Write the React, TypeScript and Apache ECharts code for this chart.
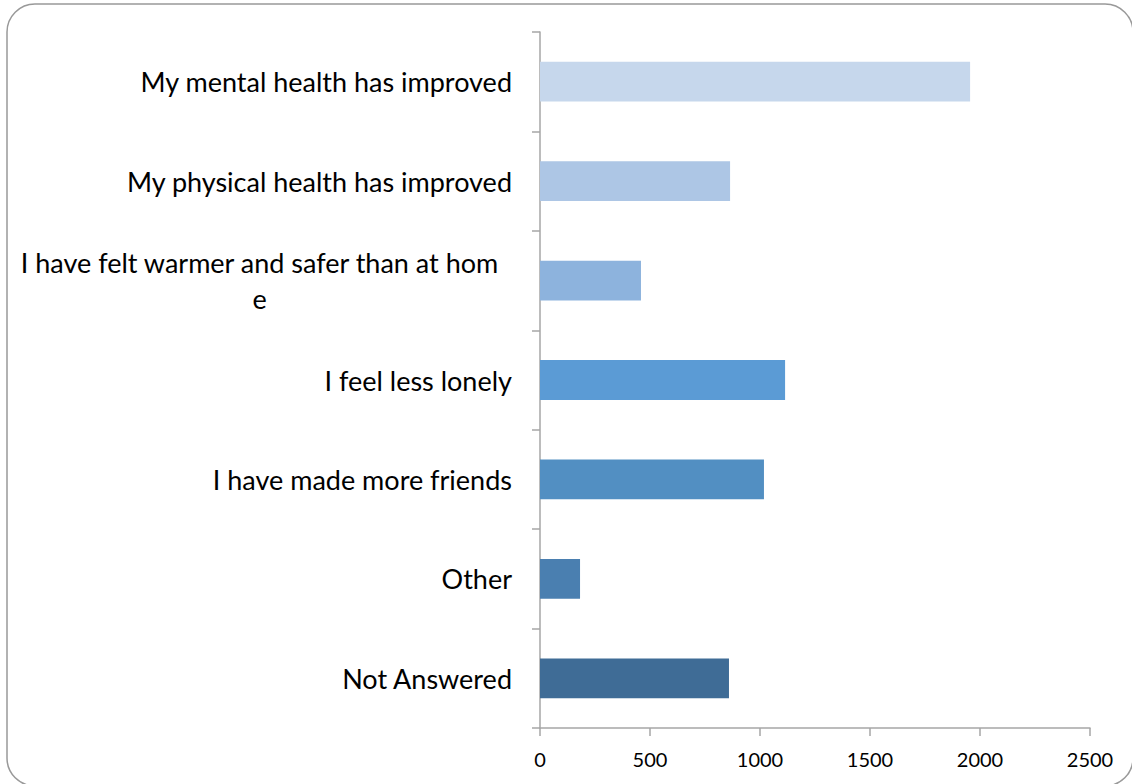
import React, { useEffect, useRef } from "react";
import * as echarts from "echarts";

const categories = [
  "My mental health has improved",
  "My physical health has improved",
  "I have felt warmer and safer than at home",
  "I feel less lonely",
  "I have made more friends",
  "Other",
  "Not Answered",
];
const values = [1955, 864, 459, 1114, 1018, 182, 859];
const barColors = ["#C6D7EC", "#ADC6E5", "#8DB3DD", "#5B9BD5", "#528FC2", "#4A7FB0", "#3F6C96"];
const xTicks = { min: 0, max: 2500, interval: 500 };

const FONT = "Lato";

export default function App() {
  const ref = useRef<HTMLDivElement>(null);
  useEffect(() => {
    if (!ref.current) return;
    const chart = echarts.init(ref.current, undefined, { renderer: "svg" });
    chart.setOption({
      animation: false,
      backgroundColor: "#ffffff",
      grid: { left: 540, right: 42, top: 32, bottom: 56, containLabel: false },
      xAxis: {
        type: "value",
        min: xTicks.min,
        max: xTicks.max,
        interval: xTicks.interval,
        splitLine: { show: false },
        axisLine: { show: true, lineStyle: { color: "#A6A6A6", width: 1.5 } },
        axisTick: { show: true, length: 8, lineStyle: { color: "#A6A6A6", width: 1.5 } },
        axisLabel: {
          color: "#000",
          fontSize: 20,
          fontFamily: FONT,
          margin: 21,
          formatter: (v: number) => String(v),
        },
      },
      yAxis: {
        type: "category",
        inverse: true,
        data: categories,
        axisLine: { show: true, lineStyle: { color: "#A6A6A6", width: 1.5 } },
        axisTick: { show: true, length: 8, lineStyle: { color: "#A6A6A6", width: 1.5 } },
        axisLabel: {
          color: "#000",
          fontSize: 27,
          fontFamily: FONT,
          margin: 28,
          formatter: (v: string) => {
            if (v === "I have felt warmer and safer than at home") {
              return "{c|I have felt warmer and safer than at hom}\n{c|e}";
            }
            return v;
          },
          rich: {
            c: { width: 505, align: "center", fontSize: 27, fontFamily: FONT, color: "#000", lineHeight: 36 },
          },
        },
      },
      series: [
        {
          type: "bar",
          data: values.map((v, i) => ({ value: v, itemStyle: { color: barColors[i] } })),
          barCategoryGap: "60%",
        },
      ],
      graphic: [
        {
          type: "rect",
          shape: { x: 7, y: 4, width: 1126, height: 782, r: 28 },
          style: { fill: "none", stroke: "#999999", lineWidth: 1.5 },
          silent: true,
        },
      ],
    });
    return () => chart.dispose();
  }, []);
  return <div ref={ref} style={{ position: "fixed", left: 0, top: 0, width: 1132, height: 784 }} />;
}
